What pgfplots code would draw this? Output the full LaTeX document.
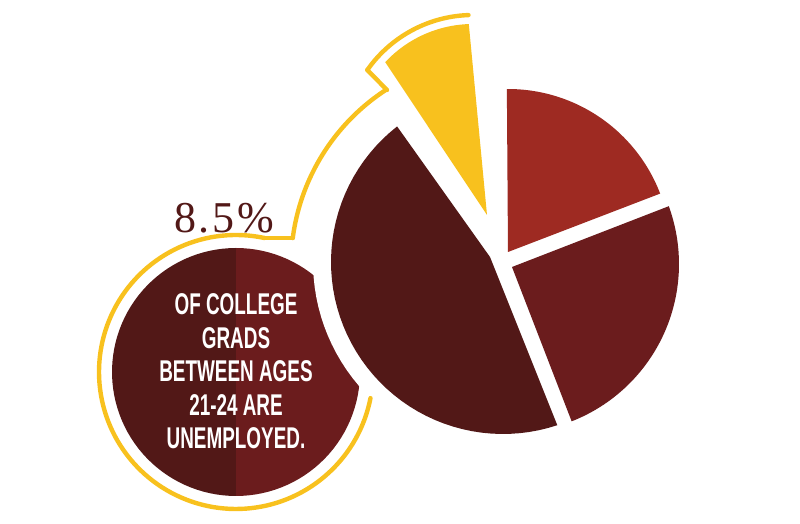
\documentclass[border=0pt]{standalone}
\usepackage{pgfplots}
\pgfplotsset{compat=1.18}
\usepackage{fontspec}
\setmainfont{Liberation Sans}
\newfontfamily\cond[FakeStretch=0.63]{Liberation Sans Bold}
\newfontfamily\numfont[LetterSpace=6]{Liberation Serif}
\definecolor{yel}{HTML}{F8C11E}
\definecolor{redA}{HTML}{9E2A22}
\definecolor{redB}{HTML}{6B1C1D}
\definecolor{redC}{HTML}{521817}
% slice: colour, apex x, apex y, arc centre x, arc centre y, radius, start angle, end angle
\newcommand{\slice}[8]{%
  \addplot[fill=#1, draw=none, samples at={-1,0,2,...,100,101}, variable=\t]
  ({ifthenelse(or(\t<0,\t>100), #2, #4+#6*cos((#7)+((#8)-(#7))*\t/100))},
   {ifthenelse(or(\t<0,\t>100), #3, #5+#6*sin((#7)+((#8)-(#7))*\t/100))});
}
\begin{document}
\begin{tikzpicture}
\begin{axis}[width=400pt, height=262pt, scale only axis,
  xmin=0, xmax=800, ymin=0, ymax=524, hide axis, clip=false]
% frame (invisible) to keep the picture's size
\addplot[draw=none, forget plot] coordinates {(0,0) (800,0) (800,524) (0,524) (0,0)};
% small circle (two tones)
\addplot[fill=redC, draw=none, domain=90:270, samples=60] ({236+124*cos(x)},{152+124*sin(x)});
\addplot[fill=redB, draw=none, domain=-90:90, samples=60] ({236+124*cos(x)},{152+124*sin(x)});
% white gap around the pie
\addplot[fill=white, draw=none, domain=0:360, samples=120] ({503+190*cos(x)},{262+190*sin(x)});
% pie slices
\slice{redB}{512}{257}{510}{260}{169}{-68.6}{20}
\slice{redA}{508}{272}{508}{272}{163}{21}{90.4}
\slice{yel}{487}{309}{473}{380}{120}{92}{137}
\slice{redC}{490}{267}{503}{262}{172}{128}{288.4}
% yellow outline
\addplot[yel, line width=2.2pt, line cap=round, domain=92:145, samples=40] ({473+129*cos(x)},{380+129*sin(x)});
\addplot[yel, line width=2.2pt, line cap=round] coordinates {(367.3,454) (387,434)};
\addplot[yel, line width=2.2pt, line cap=round, domain=123:172.6, samples=50] ({500+209*cos(x)},{259+209*sin(x)});
\addplot[yel, line width=2.2pt, line cap=round] coordinates {(292.7,286) (264.5,286)};
\addplot[yel, line width=2.2pt, line cap=round, domain=78:349, samples=120] ({236+137*cos(x)},{152+137*sin(x)});
% texts
\node[anchor=base, text=redC, font=\numfont\fontsize{22}{22}\selectfont] at (axis cs:224,291) {8.5\%};
\node[anchor=base, text=white, font=\cond\fontsize{15}{15}\selectfont] at (axis cs:236,209) {OF COLLEGE};
\node[anchor=base, text=white, font=\cond\fontsize{15}{15}\selectfont] at (axis cs:236,175.5) {GRADS};
\node[anchor=base, text=white, font=\cond\fontsize{15}{15}\selectfont] at (axis cs:236,142) {BETWEEN AGES};
\node[anchor=base, text=white, font=\cond\fontsize{15}{15}\selectfont] at (axis cs:236,108.5) {21-24 ARE};
\node[anchor=base, text=white, font=\cond\fontsize{15}{15}\selectfont] at (axis cs:236,75) {UNEMPLOYED.};
\end{axis}
\end{tikzpicture}
\end{document}
